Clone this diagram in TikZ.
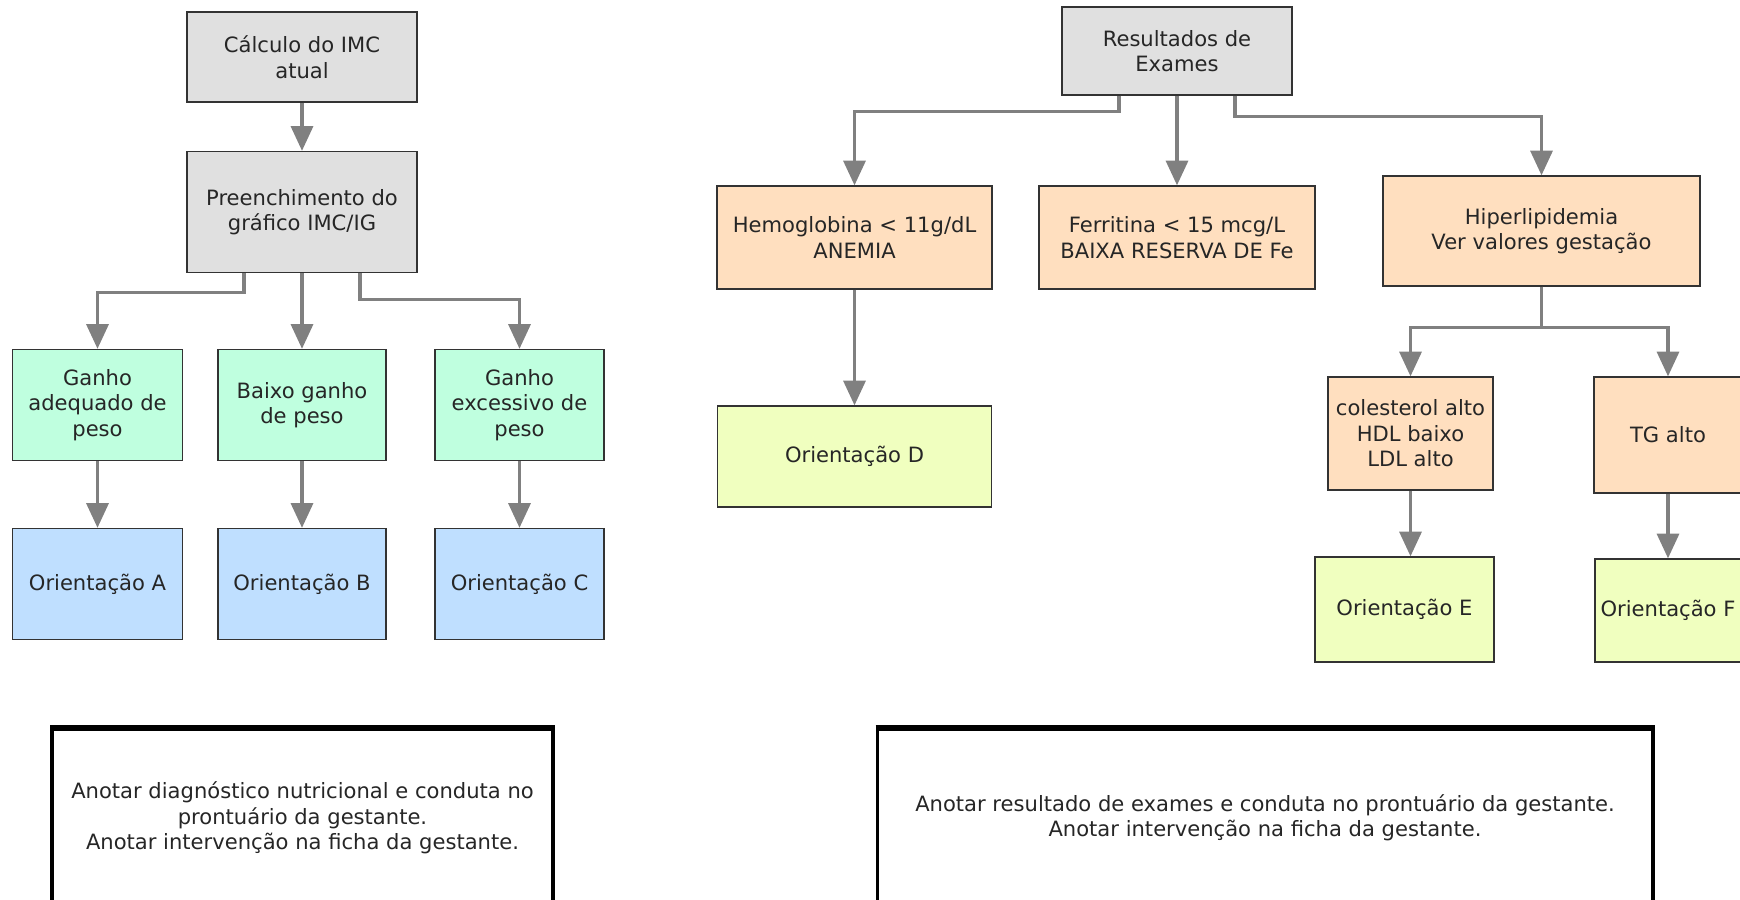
\documentclass[tikz,border=0pt]{standalone}
\usepackage{fontspec}
\setmainfont{DejaVu Sans}
\usetikzlibrary{arrows.meta,positioning}
\definecolor{BoxGray}{RGB}{224,224,224}
\definecolor{MintGreen}{RGB}{191,255,223}
\definecolor{PaleBlue}{RGB}{191,223,255}
\definecolor{Peach}{RGB}{255,223,191}
\definecolor{PaleLime}{RGB}{240,255,191}
\definecolor{ArrowGray}{RGB}{128,128,128}

\begin{document}
\begin{tikzpicture}[x=0.02cm, y=-0.02cm,
	box/.style={draw=black!80, line width=0.8pt, align=center, inner sep=2pt,
		font=\fontsize{12}{14.5}\selectfont, text=black!85},
	conn/.style={draw=ArrowGray, line width=1.8pt, -{Triangle[width=12.5pt,length=14pt]}},
	note/.style={draw=black, line width=1.8pt, align=center, inner sep=0pt,
		font=\fontsize{12}{14.5}\selectfont, text=black!85, minimum height=3.56cm}]
		\useasboundingbox (0,0) rectangle (1740,899);
		\clip (0,0) rectangle (1740,899);
		% IMC
		\node[box, fill=BoxGray, minimum width=4.6cm, minimum height=1.8cm] (calc) at (302,57) {Cálculo do IMC\\atual};
		\node[box, fill=BoxGray, minimum width=4.6cm, minimum height=2.42cm] (preench) at (302,212) {Preenchimento do\\gráfico IMC/IG};
		\node[box, fill=MintGreen, minimum width=3.4cm, minimum height=2.22cm] (ganhoA) at (97.5,405) {Ganho\\adequado de\\peso};
		\node[box, fill=MintGreen, minimum width=3.36cm, minimum height=2.22cm] (ganhoB) at (302,405) {Baixo ganho\\de peso};
		\node[box, fill=MintGreen, minimum width=3.38cm, minimum height=2.22cm] (ganhoC) at (519.5,405) {Ganho\\excessivo de\\peso};
		\node[box, fill=PaleBlue, minimum width=3.4cm, minimum height=2.22cm] (oriA) at (97.5,584) {Orientação A};
		\node[box, fill=PaleBlue, minimum width=3.36cm, minimum height=2.22cm] (oriB) at (302,584) {Orientação B};
		\node[box, fill=PaleBlue, minimum width=3.38cm, minimum height=2.22cm] (oriC) at (519.5,584) {Orientação C};
		\draw[conn] (calc.south) -- (preench.north);
		\draw[conn] (preench.south) ++(-58,0) -- ++(0,19) -| (ganhoA.north);
		\draw[conn] (preench.south) -- (ganhoB.north);
		\draw[conn] (preench.south) ++(58,0) -- ++(0,26) -| (ganhoC.north);
		\draw[conn] (ganhoA) -- (oriA);
		\draw[conn] (ganhoB) -- (oriB);
		\draw[conn] (ganhoC) -- (oriC);
		% Exames
		\node[box, fill=BoxGray, minimum width=4.6cm, minimum height=1.76cm] (result) at (1177,51) {Resultados de\\Exames};
		\node[box, fill=Peach, minimum width=5.5cm, minimum height=2.06cm] (hemo) at (854.5,237.5) {Hemoglobina < 11g/dL\\ANEMIA};
		\node[box, fill=Peach, minimum width=5.52cm, minimum height=2.06cm] (ferr) at (1177,237.5) {Ferritina < 15 mcg/L\\BAIXA RESERVA DE Fe};
		\node[box, fill=Peach, minimum width=6.34cm, minimum height=2.2cm] (hiper) at (1541.5,231) {Hiperlipidemia\\Ver valores gestação};
		\node[box, fill=PaleLime, minimum width=5.48cm, minimum height=2.02cm] (oriD) at (854.5,456.5) {Orientação D};
		\node[box, fill=Peach, minimum width=3.3cm, minimum height=2.26cm] (coles) at (1410.5,433.5) {colesterol alto\\HDL baixo\\LDL alto};
		\node[box, fill=Peach, minimum width=2.96cm, minimum height=2.32cm] (tg) at (1668,435) {TG alto};
		\node[box, fill=PaleLime, minimum width=3.58cm, minimum height=2.1cm] (oriE) at (1404.5,609.5) {Orientação E};
		\node[box, fill=PaleLime, minimum width=2.92cm, minimum height=2.06cm] (oriF) at (1668,610.5) {Orientação F};
		\draw[conn] (result.south) ++(-58,0) -- ++(0,16) -| (hemo.north);
		\draw[conn] (result.south) -- (ferr.north);
		\draw[conn] (result.south) ++(58,0) -- ++(0,21) -| (hiper.north);
		\draw[conn] (hemo) -- (oriD);
		\draw[conn] (hiper.south) -- ++(0,41) -| (coles.north);
		\draw[conn] (hiper.south) -- ++(0,41) -| (tg.north);
		\draw[conn] (coles.south) -- (coles.south |- oriE.north);
		\draw[conn] (tg) -- (oriF);
		% anotacoes
		\node[note, minimum width=10.02cm] (noteL) at (302.5,818) {Anotar diagnóstico nutricional e conduta no\\prontuário da gestante.\\Anotar intervenção na ficha da gestante.};
		\node[note, minimum width=15.52cm] (noteR) at (1265,818) {Anotar resultado de exames e conduta no prontuário da gestante.\\Anotar intervenção na ficha da gestante.};
		\draw[line width=3pt] (noteL.north west) -- (noteL.north east);
		\draw[line width=3pt] (noteR.north west) -- (noteR.north east);
	\end{tikzpicture}
\end{document}
